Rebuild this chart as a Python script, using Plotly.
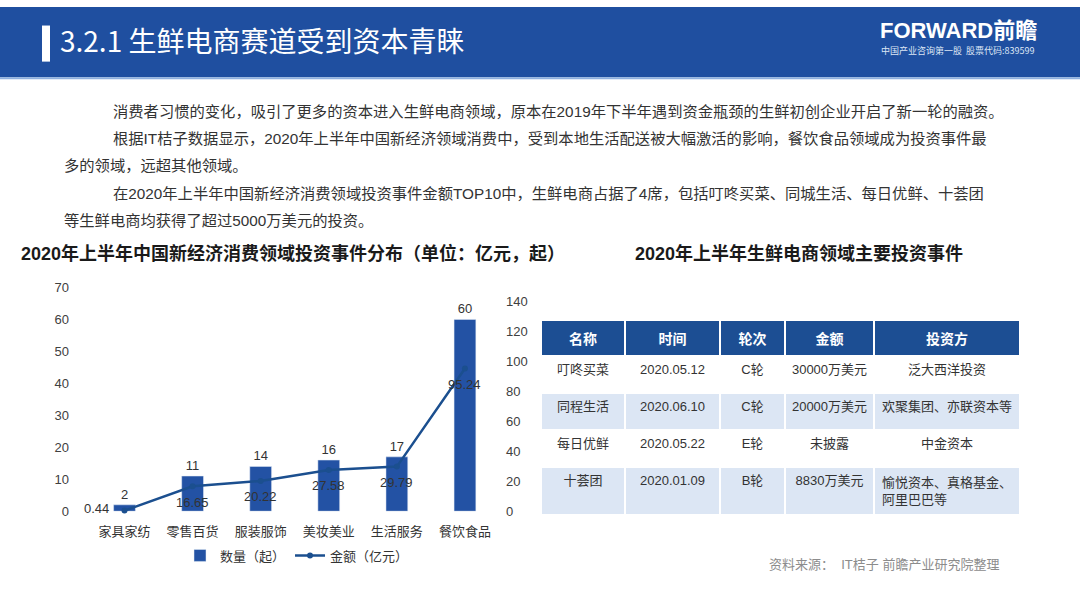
import plotly.graph_objects as go

W, H = 1080, 607

# ---------------- data ----------------
categories = ["家具家纺", "零售百货", "服装服饰", "美妆美业", "生活服务", "餐饮食品"]
counts = [2, 11, 14, 16, 17, 60]            # 数量（起）
amounts = [0.44, 16.65, 20.22, 27.58, 29.79, 95.24]  # 金额（亿元）

table_header = ["名称", "时间", "轮次", "金额", "投资方"]
tbl_name = ["叮咚买菜", "同程生活", "每日优鲜", "十荟团"]
tbl_time = ["2020.05.12", "2020.06.10", "2020.05.22", "2020.01.09"]
tbl_round = ["C轮", "C轮", "E轮", "B轮"]
tbl_amount = ["30000万美元", "20000万美元", "未披露", "8830万美元"]
tbl_investor = ["泛大西洋投资", "欢聚集团、亦联资本等", "中金资本", "愉悦资本、真格基金、<br>阿里巴巴等"]

page_title = "3.2.1 生鲜电商赛道受到资本青睐"
paragraph = [
    "消费者习惯的变化，吸引了更多的资本进入生鲜电商领域，原本在2019年下半年遇到资金瓶颈的生鲜初创企业开启了新一轮的融资。",
    "根据IT桔子数据显示，2020年上半年中国新经济领域消费中，受到本地生活配送被大幅激活的影响，餐饮食品领域成为投资事件最",
    "多的领域，远超其他领域。",
    "在2020年上半年中国新经济消费领域投资事件金额TOP10中，生鲜电商占据了4席，包括叮咚买菜、同城生活、每日优鲜、十荟团",
    "等生鲜电商均获得了超过5000万美元的投资。",
]
chart1_title = "2020年上半年中国新经济消费领域投资事件分布（单位：亿元，起）"
chart2_title = "2020年上半年生鲜电商领域主要投资事件"
source_text = "资料来源：  IT桔子 前瞻产业研究院整理"

FONT = "Liberation Sans, Arial, Noto Sans CJK SC, sans-serif"
CJK = "Noto Sans CJK SC, sans-serif"
BLUE = "#1F4FA0"
BAR_BLUE = "#2352A4"
LINE_BLUE = "#1B4F8F"


def px(x):
    return x / W


def py(y):
    return 1 - y / H


fig = go.Figure()

fig.add_trace(go.Bar(
    x=categories, y=counts, name="数量（起）",
    marker=dict(color=BAR_BLUE), width=0.32,
    text=[str(v) for v in counts], textposition="outside",
    textfont=dict(size=13, color="#333333", family=FONT),
    cliponaxis=False,
))
fig.add_trace(go.Scatter(
    x=categories, y=amounts, name="金额（亿元）", yaxis="y2",
    mode="lines+markers",
    line=dict(color=LINE_BLUE, width=2.5),
    marker=dict(color=LINE_BLUE, size=6),
    cliponaxis=False,
))

n = len(tbl_name)
fills = [["#FFFFFF" if i % 2 == 0 else "#DCE6F4" for i in range(n)]] * 5
fig.add_trace(go.Table(
    domain=dict(x=[px(541), px(1020)], y=[py(600), py(321)]),
    columnwidth=[84, 95, 65, 89, 146],
    header=dict(
        values=[f"<b>{h}</b>" for h in table_header],
        fill_color="#1C4E93", line=dict(color="white", width=2),
        font=dict(color="white", size=14, family=CJK),
        align="center", height=28,
    ),
    cells=dict(
        values=[tbl_name, tbl_time, tbl_round, tbl_amount, tbl_investor],
        fill_color=fills, line=dict(color="white", width=2),
        font=dict(color="#333333", size=13, family=FONT),
        align="center", height=37,
    ),
))

y2_top = (517 - 287.5) / (215 / 140)

fig.update_layout(
    width=W, height=H,
    margin=dict(l=0, r=0, t=0, b=0),
    paper_bgcolor="white", plot_bgcolor="rgba(0,0,0,0)",
    font=dict(family=FONT, color="#333333"),
    xaxis=dict(domain=[px(82), px(499)], showgrid=False, showline=False, zeroline=False,
               tickfont=dict(size=13, color="#333333", family=CJK), ticks="",
               ticklabelstandoff=11, anchor="y"),
    yaxis=dict(domain=[py(517), py(287.5)], range=[0, 70], dtick=10, showgrid=False,
               zeroline=False, showline=False, tickfont=dict(size=13, color="#404040"),
               ticks="", ticklabelstandoff=12),
    yaxis2=dict(overlaying="y", side="right", anchor="free", position=px(505),
                range=[0, y2_top], tickvals=[0, 20, 40, 60, 80, 100, 120, 140],
                showgrid=False, zeroline=False, showline=False,
                tickfont=dict(size=13, color="#404040"), ticks=""),
    legend=dict(orientation="h", x=px(180), y=py(547), xanchor="left", yanchor="top",
                font=dict(size=13, color="#333333", family=CJK), bgcolor="rgba(0,0,0,0)",
                itemwidth=30),
    showlegend=True,
)

# header band
fig.add_shape(type="rect", xref="paper", yref="paper", x0=0, x1=1, y0=py(72), y1=1,
              fillcolor=BLUE, line=dict(width=0), layer="below")
fig.add_shape(type="rect", xref="paper", yref="paper", x0=0, x1=1, y0=py(74), y1=py(72),
              fillcolor="#8FB0DE", line=dict(width=0), layer="below")
fig.add_shape(type="rect", xref="paper", yref="paper", x0=px(42), x1=px(50), y0=py(56), y1=py(19),
              fillcolor="white", line=dict(width=0))

ann = []
ann.append(dict(text=page_title, x=px(58), y=py(34), xanchor="left", yanchor="middle",
                font=dict(size=28, color="white", family=CJK)))
ann.append(dict(text="<b>FORWARD前瞻</b>", x=px(878), y=py(24), xanchor="left", yanchor="middle",
                font=dict(size=22, color="white", family=FONT)))
ann.append(dict(text="中国产业咨询第一股  股票代码:839599", x=px(879), y=py(45), xanchor="left",
                yanchor="middle", font=dict(size=9, color="#DDE6F5", family=CJK)))

para_x = [111, 111, 62, 111, 62]
para_y = [107, 135, 163, 191, 219]
for t, xx, yy in zip(paragraph, para_x, para_y):
    ann.append(dict(text=t, x=px(xx), y=py(yy), xanchor="left", yanchor="middle",
                    font=dict(size=15.3, color="#333333", family=FONT)))

ann.append(dict(text=f"<b>{chart1_title}</b>", x=px(19), y=py(253), xanchor="left", yanchor="middle",
                font=dict(size=18, color="#1a1a1a", family=FONT)))
ann.append(dict(text=f"<b>{chart2_title}</b>", x=px(633), y=py(253), xanchor="left", yanchor="middle",
                font=dict(size=18, color="#1a1a1a", family=FONT)))
ann.append(dict(text=source_text, x=px(767), y=py(572), xanchor="left", yanchor="middle",
                font=dict(size=13, color="#8C8C8C", family=FONT)))

for a in ann:
    a.update(xref="paper", yref="paper", showarrow=False)

# line value labels, placed from the data through the y2 scale
for i, (c, v) in enumerate(zip(categories, amounts)):
    if i == 0:
        ann.append(dict(x=c, y=v, xref="x", yref="y2", text=f"{v:.2f}", showarrow=False,
                        xshift=-28, yshift=2, font=dict(size=13, color="#333333", family=FONT)))
    else:
        ann.append(dict(x=c, y=v, xref="x", yref="y2", text=f"{v:.2f}", showarrow=False,
                        yshift=-16, font=dict(size=13, color="#333333", family=FONT)))

fig.update_layout(annotations=ann)

fig.write_html("out.html")
